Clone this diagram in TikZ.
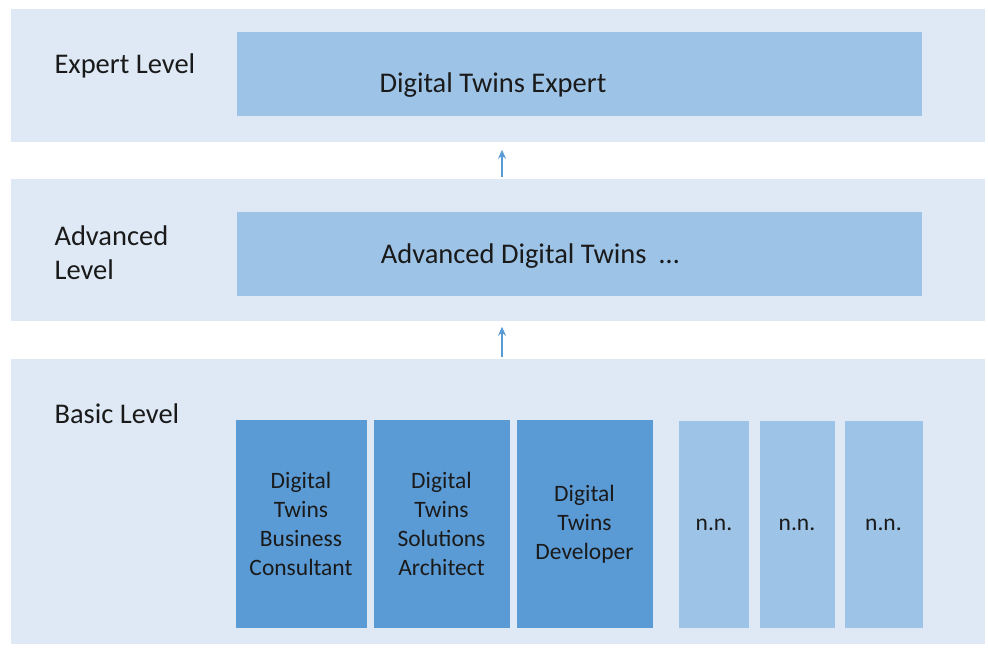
\documentclass[tikz,border=0pt]{standalone}
\usepackage{fontspec}
\setmainfont{Carlito}
\definecolor{bandfill}{HTML}{DEE9F5}
\definecolor{lightbox}{HTML}{9DC3E6}
\definecolor{darkbox}{HTML}{5B9BD5}
\definecolor{txt}{HTML}{1A1A1A}
\tikzset{band/.style={fill=bandfill, draw=white, line width=1.5pt, minimum width=976pt, inner sep=0pt}}
\tikzset{wide/.style={fill=lightbox, minimum width=685pt, minimum height=84pt, inner sep=0pt}}
\tikzset{cell/.style={fill=darkbox, minimum height=208pt, inner sep=0pt}}
\tikzset{nn/.style={fill=lightbox, minimum height=207pt, inner sep=0pt}}
\tikzset{lvl/.style={anchor=west, align=left, text=txt, font=\fontsize{28.5}{34}\selectfont}}
\tikzset{big/.style={text=txt, font=\fontsize{28.5}{34}\selectfont}}
\tikzset{small/.style={align=center, text=txt, font=\fontsize{23.5}{29}\selectfont}}
\tikzset{up/.style={draw=darkbox, line width=2pt, -{Stealth[length=9pt,width=8pt]}}}
\usetikzlibrary{arrows.meta}

\begin{document}
\begin{tikzpicture}[x=1pt, y=-1pt]
  \useasboundingbox (0,0) rectangle (988,648);
  % the three level bands
  \node[band, minimum height=135pt] (expband) at (498,75.5) {};
  \node[band, minimum height=144pt] (advband) at (498,250) {};
  \node[band, minimum height=287pt] (basband) at (498,501.5) {};

  % level labels
  \node[lvl] (explbl) at (51,66) {Expert Level};
  \node[lvl] (advlbl) at (51,253) {Advanced\\Level};
  \node[lvl] (baslbl) at (51,414) {Basic Level};

  % expert and advanced boxes
  \node[wide] (expbox) at (579.5,74) {};
  \node[big] (exptxt) at (493,85) {Digital Twins Expert};
  \node[wide] (advbox) at (579.5,254) {};
  \node[big] (advtxt) at (530,256) {Advanced Digital Twins~~\ldots};

  % basic level roles
  \node[cell, minimum width=131pt] (bizcon) at (301,524) {};
  \node[cell, minimum width=136pt] (solarch) at (441.5,524) {};
  \node[cell, minimum width=136pt] (dev) at (584.5,524) {};
  \node[small] (bizcontxt) at (bizcon) {Digital\\Twins\\Business\\Consultant};
  \node[small] (solarchtxt) at (solarch) {Digital\\Twins\\Solutions\\Architect};
  \node[small] (devtxt) at (dev) {Digital\\Twins\\Developer};
  \node[nn, minimum width=70pt] (nnA) at (714,524.5) {};
  \node[nn, minimum width=75pt] (nnB) at (797,524.5) {};
  \node[nn, minimum width=78pt] (nnC) at (883.5,524.5) {};
  \foreach \n in {nnA,nnB,nnC} {
    \node[small] (\n txt) at (\n) {n.n.};
  }

  % arrows between the levels
  \coordinate (ax) at (502,0);
  \draw[up] (advband.north -| ax) -- ([yshift=-6pt]expband.south -| ax);
  \draw[up] (basband.north -| ax) -- ([yshift=-4pt]advband.south -| ax);
\end{tikzpicture}
\end{document}
